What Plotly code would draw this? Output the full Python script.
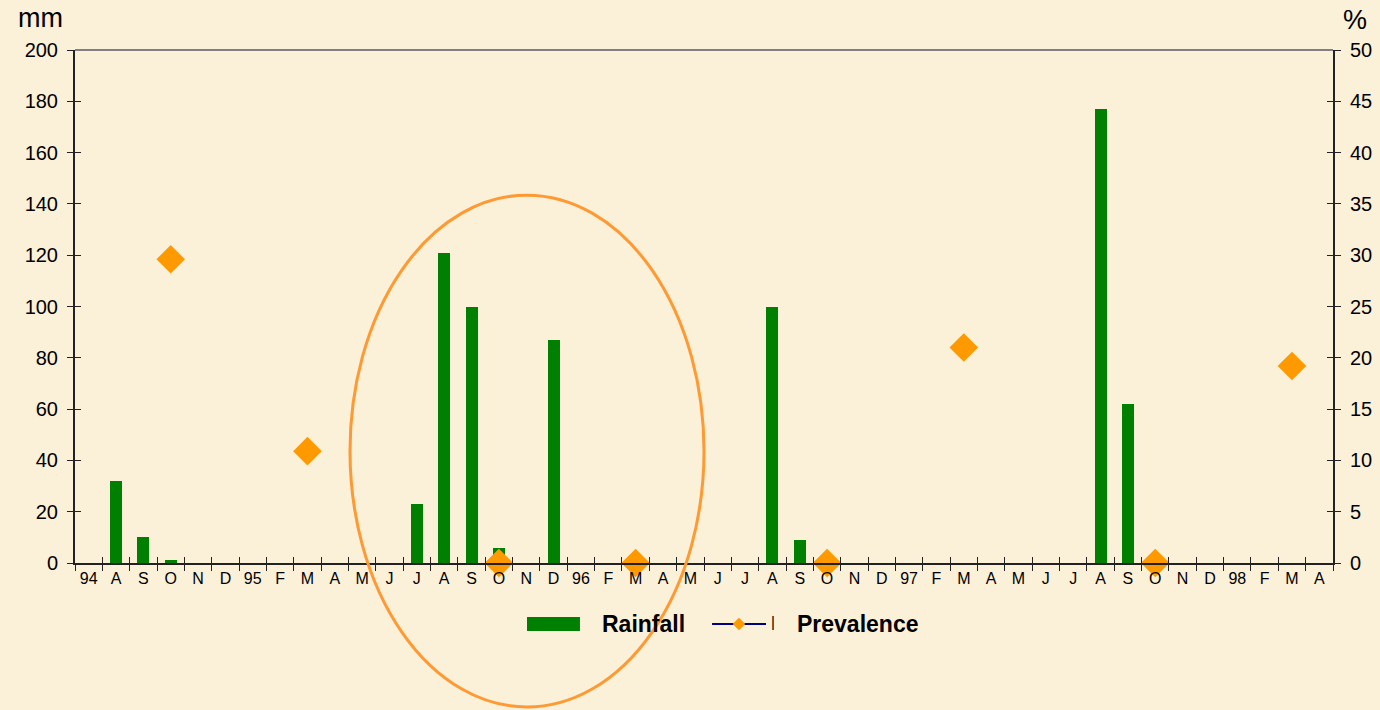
import pandas as pd
import plotly.graph_objects as go

# Monthly series, July 1994 - April 1998
month_keys = list(pd.period_range("1994-07", periods=46, freq="M").strftime("%Y-%m"))
tick_labels = ["94", "A", "S", "O", "N", "D",
               "95", "F", "M", "A", "M", "J", "J", "A", "S", "O", "N", "D",
               "96", "F", "M", "A", "M", "J", "J", "A", "S", "O", "N", "D",
               "97", "F", "M", "A", "M", "J", "J", "A", "S", "O", "N", "D",
               "98", "F", "M", "A"]

# Monthly rainfall (mm)
rainfall = [0, 32, 10, 1, 0, 0,
            0, 0, 0, 0, 0, 0, 23, 121, 100, 6, 0, 87,
            0, 0, 0, 0, 0, 0, 0, 100, 9, 0, 0, 0,
            0, 0, 0, 0, 0, 0, 0, 177, 62, 0, 0, 0,
            0, 0, 0, 0]

# Prevalence survey results (%), surveyed months only
prevalence = [None, None, None, 29.6, None, None,
              None, None, 10.9, None, None, None, None, None, None, 0, None, None,
              None, None, 0, None, None, None, None, None, None, 0, None, None,
              None, None, 21.0, None, None, None, None, None, None, 0, None, None,
              None, None, 19.2, None]

BG = "#fbf0d8"
FONT = "Liberation Sans, Arial, sans-serif"
GREEN = "#008000"
ORANGE = "#ff9900"
NAVY = "#000080"
AXIS = "#222222"

fig = go.Figure()

fig.add_trace(go.Bar(
    x=month_keys, y=rainfall, name="Rainfall",
    marker=dict(color=GREEN, line=dict(width=0)),
    width=0.44, xaxis="x", yaxis="y", showlegend=False,
))

fig.add_trace(go.Scatter(
    x=month_keys, y=prevalence, name="Prevalence",
    mode="lines+markers", connectgaps=False,
    line=dict(color=NAVY, width=2),
    marker=dict(symbol="diamond", size=22, color=ORANGE, line=dict(width=0)),
    xaxis="x", yaxis="y2", showlegend=False, cliponaxis=False,
))

# invisible carriers for the inner half of the crossing tick marks
for ya in ("y3", "y4"):
    fig.add_trace(go.Scatter(
        x=month_keys, y=[0] * len(month_keys), mode="markers",
        marker=dict(opacity=0), hoverinfo="skip", showlegend=False,
        xaxis="x2", yaxis=ya,
    ))

axis_common = dict(showgrid=False, zeroline=False, automargin=False)

fig.update_layout(
    width=1380, height=710,
    margin=dict(l=75, r=47, t=50, b=147, autoexpand=False),
    paper_bgcolor=BG, plot_bgcolor=BG,
    font=dict(family=FONT, color="#000000"),
    bargap=0,
    xaxis=dict(
        type="category", categoryorder="array", categoryarray=month_keys,
        range=[-0.5, 45.5],
        tickmode="array", tickvals=month_keys, ticktext=tick_labels,
        tickson="boundaries", ticks="outside", ticklen=6, tickwidth=1,
        tickcolor=AXIS, showline=True, linecolor=AXIS, linewidth=2,
        tickfont=dict(size=16), **axis_common,
    ),
    xaxis2=dict(
        type="category", categoryorder="array", categoryarray=month_keys,
        range=[-0.5, 45.5], overlaying="x", side="bottom",
        tickmode="array", tickvals=month_keys, ticktext=[""] * len(month_keys),
        tickson="boundaries", ticks="inside", ticklen=6, tickwidth=1,
        tickcolor=AXIS, showline=False, showticklabels=False, **axis_common,
    ),
    yaxis=dict(
        range=[0, 200], dtick=20, ticks="outside", ticklen=6, tickwidth=1,
        tickcolor=AXIS, showline=True, linecolor=AXIS, linewidth=2,
        tickfont=dict(size=20), ticklabelstandoff=5, **axis_common,
    ),
    yaxis2=dict(
        range=[0, 50], dtick=5, overlaying="y", side="right",
        ticks="outside", ticklen=6, tickwidth=1, tickcolor=AXIS,
        showline=True, linecolor=AXIS, linewidth=2,
        tickfont=dict(size=20), ticklabelstandoff=5, **axis_common,
    ),
    yaxis3=dict(
        range=[0, 200], dtick=20, overlaying="y", side="left",
        ticks="inside", ticklen=6, tickwidth=1, tickcolor=AXIS,
        showticklabels=False, showline=False, **axis_common,
    ),
    yaxis4=dict(
        range=[0, 50], dtick=5, overlaying="y", side="right",
        ticks="inside", ticklen=6, tickwidth=1, tickcolor=AXIS,
        showticklabels=False, showline=False, **axis_common,
    ),
    showlegend=False,
)

# frame top edge and highlighted season
fig.add_shape(type="line", xref="paper", yref="paper", x0=0, x1=1, y0=1, y1=1,
              line=dict(color="#808080", width=2))
fig.add_shape(type="circle", xref="paper", yref="paper",
              x0=0.2186, x1=0.5, y0=-0.2807, y1=0.717,
              line=dict(color="#ff9933", width=3), layer="above")

# legend
LEG_Y = -0.1189
fig.add_shape(type="rect", xref="paper", yref="paper",
              x0=0.3593, x1=0.4014, y0=-0.1326, y1=-0.1053,
              fillcolor=GREEN, line=dict(width=0))
fig.add_annotation(x=0.4173, y=LEG_Y, xref="paper", yref="paper",
                   text="<b>Rainfall</b>", showarrow=False, xanchor="left",
                   yanchor="middle", font=dict(size=23))
fig.add_shape(type="line", xref="paper", yref="paper",
              x0=0.5064, x1=0.5493, y0=LEG_Y, y1=LEG_Y,
              line=dict(color=NAVY, width=2))
cx, cy, hw, hh = 0.5278, LEG_Y, 0.0050, 0.0122
fig.add_shape(type="path", xref="paper", yref="paper",
              path=f"M {cx-hw},{cy} L {cx},{cy+hh} L {cx+hw},{cy} L {cx},{cy-hh} Z",
              fillcolor=ORANGE, line=dict(width=0))
fig.add_annotation(x=0.5548, y=LEG_Y + 0.004, xref="paper", yref="paper",
                   text="|", showarrow=False, xanchor="center",
                   yanchor="middle", font=dict(size=15))
fig.add_annotation(x=0.5723, y=LEG_Y, xref="paper", yref="paper",
                   text="<b>Prevalence</b>", showarrow=False, xanchor="left",
                   yanchor="middle", font=dict(size=23))

# axis unit captions
fig.add_annotation(x=-0.0278, y=1.062, xref="paper", yref="paper", text="mm",
                   showarrow=False, xanchor="center", yanchor="middle",
                   font=dict(size=27))
fig.add_annotation(x=1.0175, y=1.058, xref="paper", yref="paper", text="%",
                   showarrow=False, xanchor="center", yanchor="middle",
                   font=dict(size=27))

fig.write_html("out.html")
